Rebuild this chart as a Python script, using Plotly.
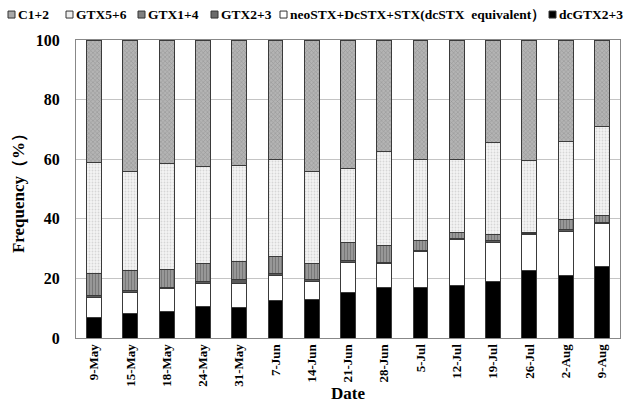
import plotly.graph_objects as go

dates = ["9-May", "15-May", "18-May", "24-May", "31-May", "7-Jun", "14-Jun", "21-Jun",
         "28-Jun", "5-Jul", "12-Jul", "19-Jul", "26-Jul", "2-Aug", "9-Aug"]

dcGTX23 = [6.8, 8.2, 8.8, 10.6, 10.4, 12.6, 12.9, 15.2, 16.9, 17.1, 17.7, 19.0, 22.6, 21.0, 24.0]
neoSTX = [6.9, 7.2, 7.7, 7.8, 8.0, 8.5, 5.9, 10.1, 8.1, 11.8, 15.2, 13.2, 12.1, 14.8, 14.4]
GTX23 = [0.5, 0.6, 0.5, 0.5, 1.1, 0.5, 0.9, 0.8, 0.3, 0.5, 0.6, 0.5, 0.4, 0.6, 0.5]
GTX14 = [7.3, 6.5, 6.1, 6.2, 6.1, 5.8, 5.3, 5.8, 5.6, 3.3, 2.0, 2.2, 0.4, 3.4, 2.3]
GTX56 = [37.5, 33.4, 35.4, 32.4, 32.4, 32.5, 30.9, 25.1, 31.6, 27.3, 24.4, 30.6, 24.0, 26.2, 29.8]
C12 = [41.0, 44.1, 41.5, 42.5, 41.9, 40.1, 44.1, 43.0, 37.5, 40.0, 40.1, 34.5, 40.5, 34.0, 29.0]

series_names = ["dcGTX2+3", "neoSTX+DcSTX+STX(dcSTX  equivalent）", "GTX2+3", "GTX1+4", "GTX5+6", "C1+2"]
series_values = [dcGTX23, neoSTX, GTX23, GTX14, GTX56, C12]

styles = [
    dict(color="#000000"),
    dict(color="#ffffff"),
    dict(color="#5a5a5a"),
    dict(color="#8c8c8c", pattern=dict(shape="|", fgcolor="#555555", bgcolor="#9a9a9a", size=3, solidity=0.4)),
    dict(color="#eeeeee", pattern=dict(shape=".", fgcolor="#b8b8b8", bgcolor="#f4f4f4", size=3, solidity=0.3)),
    dict(color="#a0a0a0", pattern=dict(shape="x", fgcolor="#707070", bgcolor="#b4b4b4", size=3, solidity=0.3)),
]
swatch_colors = ["#000000", "#ffffff", "#6a6a6a", "#808080", "#eeeeee", "#a8a8a8"]

SERIF = "Liberation Serif"

fig = go.Figure()
for name, vals, st in zip(series_names, series_values, styles):
    marker = dict(line=dict(color="#3a3a3a", width=1))
    marker.update(st)
    fig.add_trace(go.Bar(x=dates, y=vals, name=name, marker=marker, showlegend=False))

# manual one-row legend (top)
L, W = 76, 544
B, H = 338.5, 298.5
legend_order = [5, 4, 3, 2, 1, 0]
legend_px = [8, 66, 138, 211, 280, 549]
for idx, px in zip(legend_order, legend_px):
    fig.add_shape(type="rect", xref="paper", yref="paper",
                  x0=(px - L) / W, x1=(px + 7 - L) / W,
                  y0=(B - 18) / H, y1=(B - 11) / H,
                  fillcolor=swatch_colors[idx], line=dict(color="#333333", width=1))
    fig.add_annotation(xref="paper", yref="paper", x=(px + 8 - L) / W, y=(B - 14.5) / H,
                       text="<b>" + series_names[idx] + "</b>", showarrow=False,
                       xanchor="left", yanchor="middle",
                       font=dict(size=13.5, family=SERIF))

fig.update_layout(
    barmode="stack",
    bargap=0.59,
    width=637, height=407,
    margin=dict(l=76, r=17, t=40, b=68.5, autoexpand=False),
    paper_bgcolor="white", plot_bgcolor="white",
    font=dict(family=SERIF, color="black"),
)
fig.update_xaxes(
    tickangle=-90, tickfont=dict(size=13, family=SERIF, weight="bold"),
    showline=True, linecolor="#888888", mirror=True, automargin=False,
    ticks="", title=dict(text="<b>Date</b>", font=dict(size=17, family=SERIF), standoff=1),
)
fig.update_yaxes(
    range=[0, 100], dtick=20, tickfont=dict(size=16, family=SERIF, weight="bold"),
    ticklabelstandoff=12,
    showgrid=True, gridcolor="#c4c4c4", automargin=False,
    showline=True, linecolor="#888888", mirror=True, zeroline=False, ticks="",
    title=dict(text="<b>Frequency（%）</b>", font=dict(size=17, family=SERIF), standoff=6),
)

fig.write_html("out.html")
